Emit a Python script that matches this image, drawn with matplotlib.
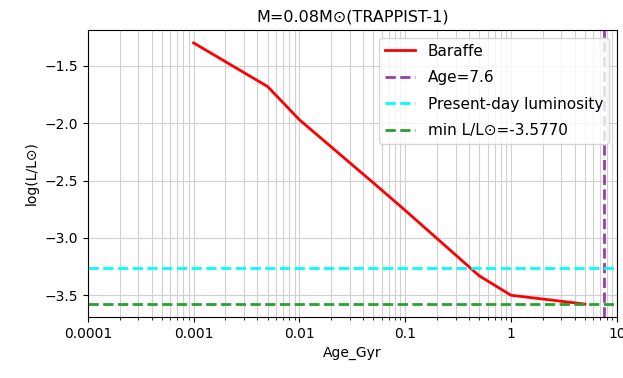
import matplotlib
matplotlib.use('Agg')
import matplotlib.pyplot as plt
from matplotlib.ticker import FuncFormatter

# Baraffe track for M = 0.08 Msun
age_gyr = [0.001, 0.005, 0.01, 0.05, 0.1, 0.5, 1.0, 5.0]
log_lum = [-1.30, -1.68, -1.97, -2.52, -2.76, -3.33, -3.50, -3.577]

system_age = 7.6
present_lum = -3.26
min_lum = -3.577

fig = plt.figure(figsize=(6.23, 3.78), dpi=100)
ax = fig.add_axes([0.141, 0.161, 0.849, 0.76])

ax.plot(age_gyr, log_lum, color='red', lw=2, label='Baraffe')
ax.axvline(system_age, color='#9b3fa8', ls='--', lw=2, label='Age=%.1f' % system_age)
ax.axhline(present_lum, color='cyan', ls='--', lw=2, label='Present-day luminosity')
ax.axhline(min_lum, color='tab:green', ls='--', lw=2, label='min L/L\u2299=%.4f' % min_lum)

ax.set_xscale('log')
ax.set_xlim(1e-4, 10)
ax.xaxis.set_major_formatter(FuncFormatter(lambda v, p: '{:g}'.format(v)))
ax.grid(True, which='both', color='#d0d0d0')
ax.set_axisbelow(True)

ax.set_title('M=0.08M\u2299(TRAPPIST-1)', fontsize=11.5, pad=6)
ax.set_xlabel('Age_Gyr')
ax.set_ylabel('log(L/L\u2299)')
ax.legend(loc='upper right', fontsize=11, labelspacing=0.75)

fig.savefig('out.png', dpi=100)
